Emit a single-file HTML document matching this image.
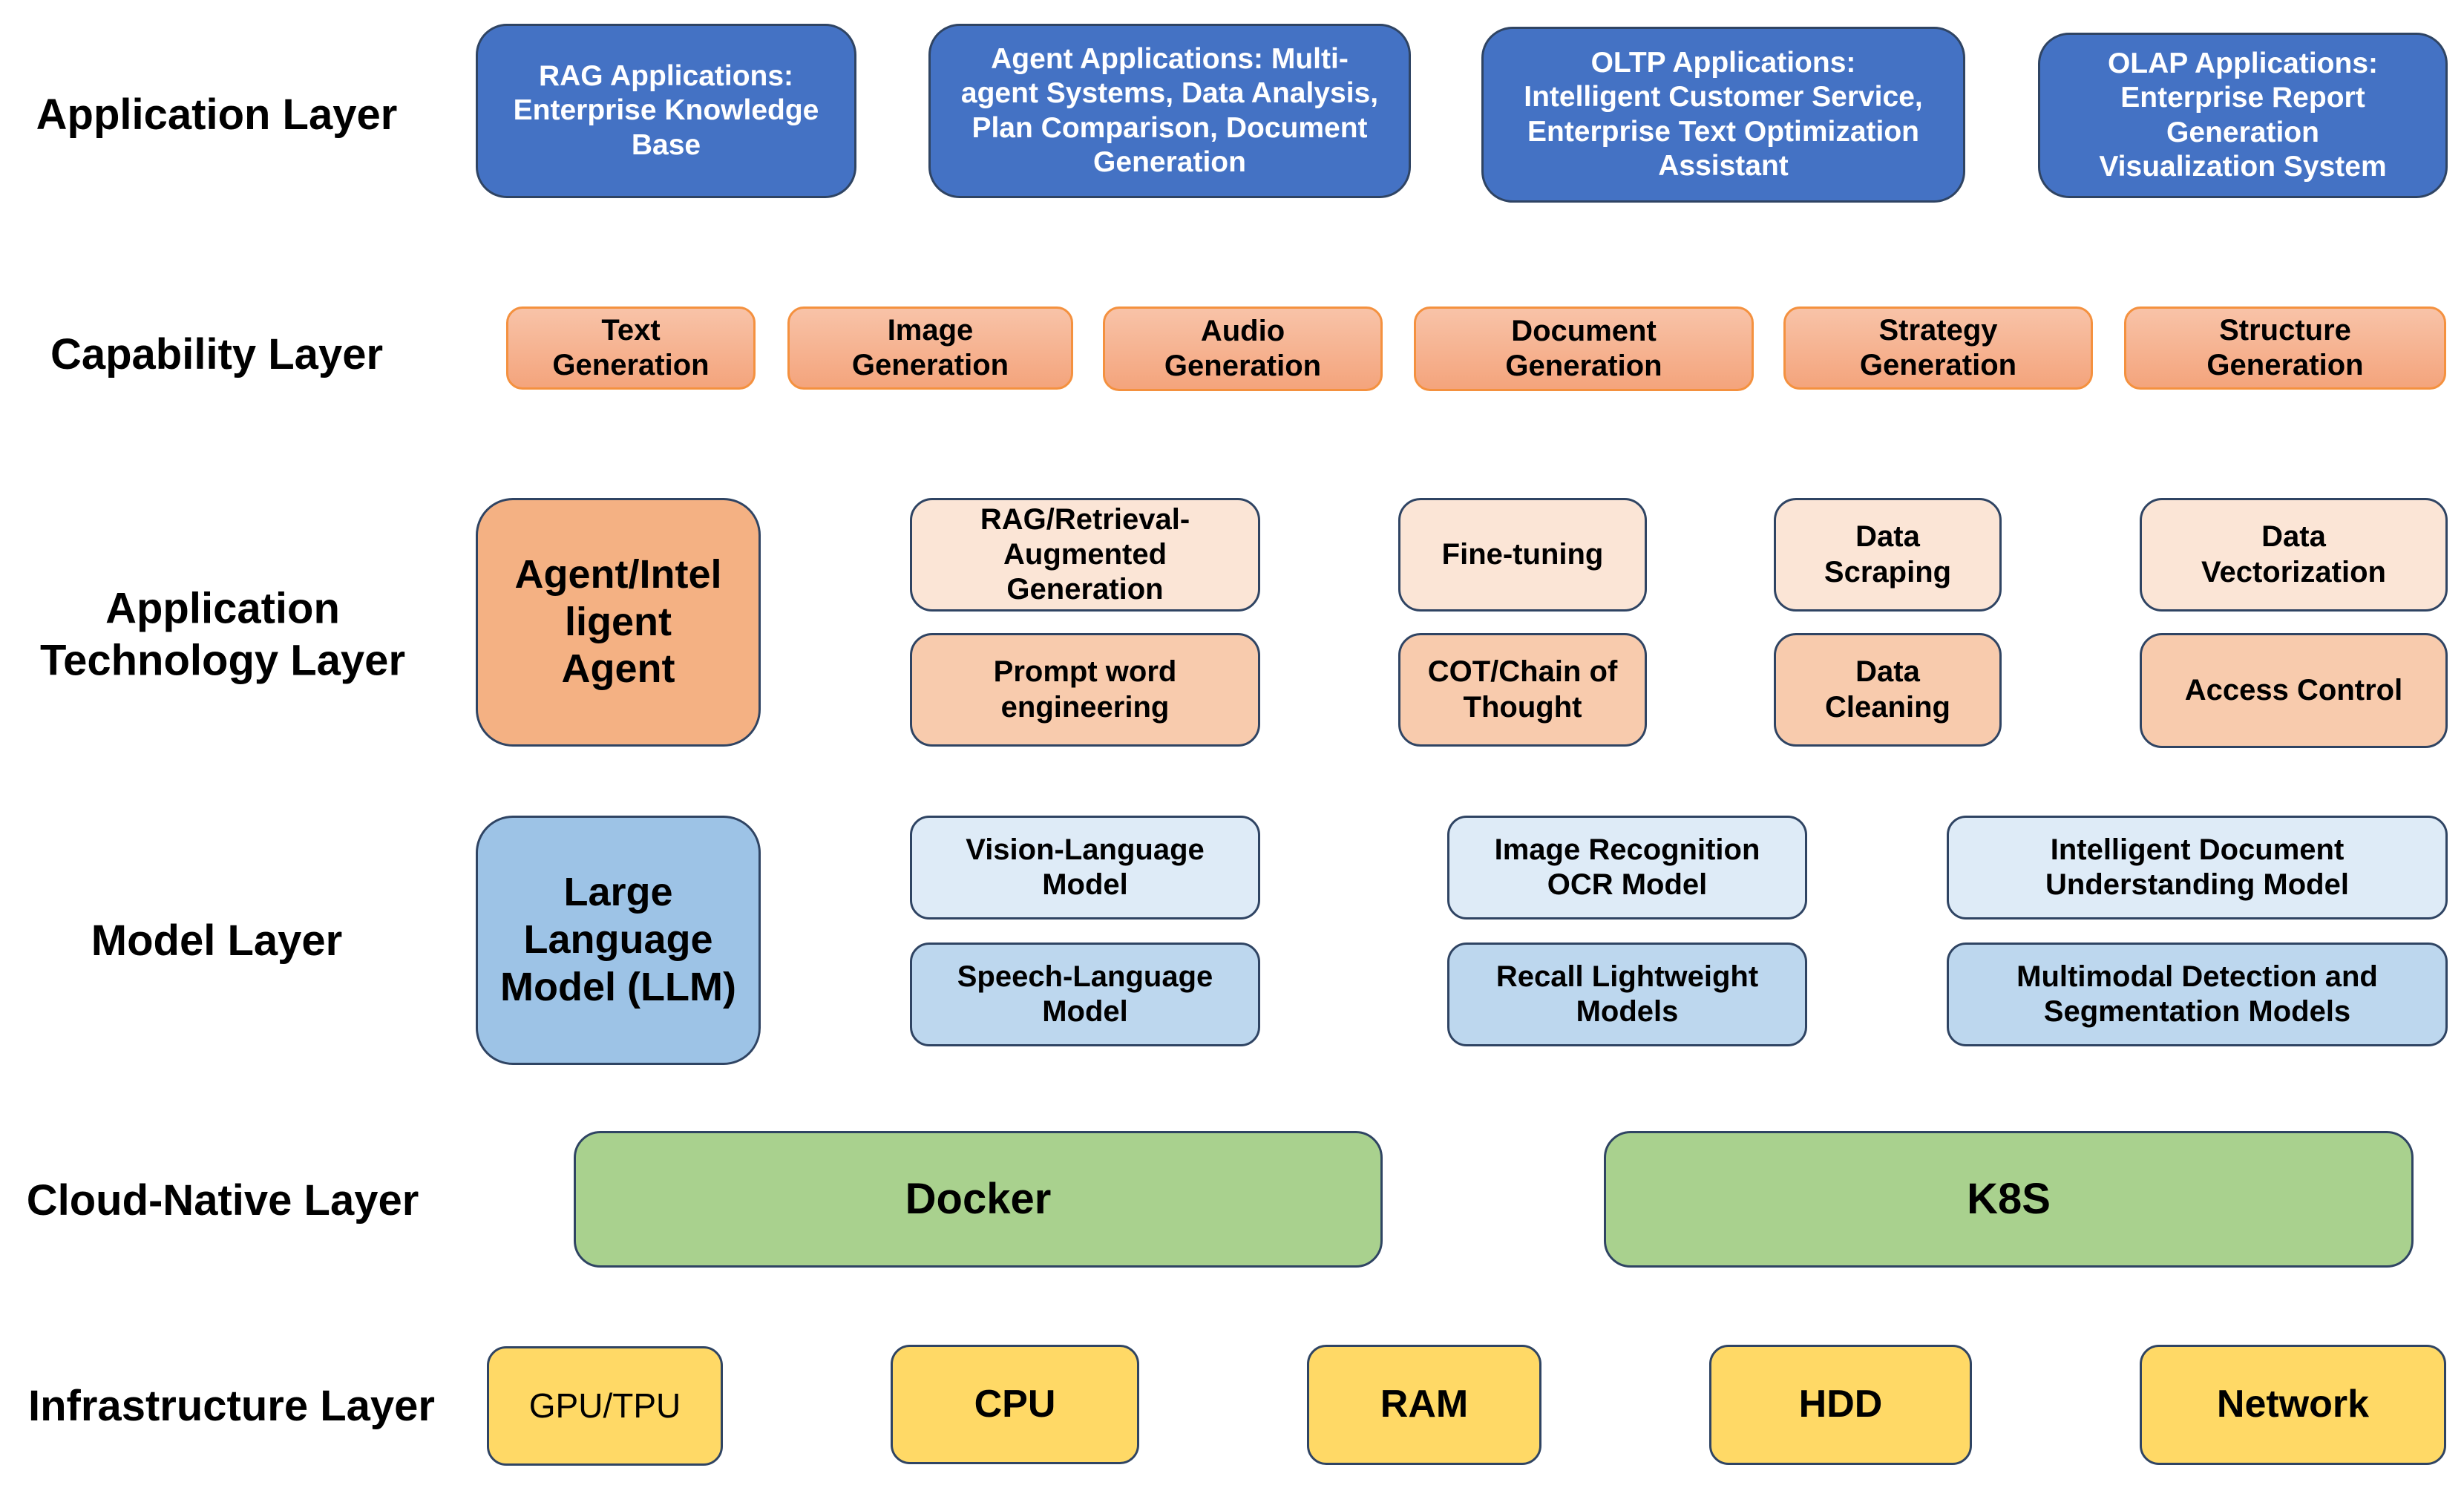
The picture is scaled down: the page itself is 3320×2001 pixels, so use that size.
<!DOCTYPE html>
<html><head><meta charset="utf-8"><style>
html,body{margin:0;padding:0;background:#fff;}
body{width:3320px;height:2001px;position:relative;overflow:hidden;font-family:"Liberation Sans",sans-serif;font-weight:bold;}
.b{position:absolute;box-sizing:border-box;display:flex;align-items:center;justify-content:center;text-align:center;border:3px solid #2F4463;color:#000;line-height:1.18;}
.lbl{position:absolute;text-align:center;font-size:58px;line-height:1.2;color:#000;transform:translate(-50%,-50%);white-space:nowrap;}
.app{background:#4472C4;color:#fff;border-radius:42px;font-size:39px;}
.cap{background:linear-gradient(#F8C3A8,#F4A47C);border:3px solid #F4913F;border-radius:22px;font-size:40px;}
.t1{background:#FBE5D6;border-radius:30px;font-size:40px;}
.t2{background:#F8CBAD;border-radius:30px;font-size:40px;}
.m1{background:#DEEBF7;border-radius:26px;font-size:40px;}
.m2{background:#BDD7EE;border-radius:26px;font-size:40px;}
.g{background:#A9D18E;border-radius:36px;font-size:58px;}
.y{background:#FFD966;border-radius:26px;font-size:52px;}
</style></head><body>
<div class="lbl" style="left:292px;top:155px">Application Layer</div>
<div class="lbl" style="left:292px;top:478px">Capability Layer</div>
<div class="lbl" style="left:300px;top:855px">Application<br>Technology Layer</div>
<div class="lbl" style="left:292px;top:1268px">Model Layer</div>
<div class="lbl" style="left:300px;top:1618px">Cloud-Native Layer</div>
<div class="lbl" style="left:312px;top:1895px">Infrastructure Layer</div>

<div class="b app" style="left:641px;top:32px;width:513px;height:235px">RAG Applications:<br>Enterprise Knowledge<br>Base</div>
<div class="b app" style="left:1251px;top:32px;width:650px;height:235px">Agent Applications: Multi-<br>agent Systems, Data Analysis,<br>Plan Comparison, Document<br>Generation</div>
<div class="b app" style="left:1996px;top:36px;width:652px;height:237px">OLTP Applications:<br>Intelligent Customer Service,<br>Enterprise Text Optimization<br>Assistant</div>
<div class="b app" style="left:2746px;top:44px;width:552px;height:223px">OLAP Applications:<br>Enterprise Report<br>Generation<br>Visualization System</div>

<div class="b cap" style="left:682px;top:413px;width:336px;height:112px">Text<br>Generation</div>
<div class="b cap" style="left:1061px;top:413px;width:385px;height:112px">Image<br>Generation</div>
<div class="b cap" style="left:1486px;top:413px;width:377px;height:114px">Audio<br>Generation</div>
<div class="b cap" style="left:1905px;top:413px;width:458px;height:114px">Document<br>Generation</div>
<div class="b cap" style="left:2403px;top:413px;width:417px;height:112px">Strategy<br>Generation</div>
<div class="b cap" style="left:2862px;top:413px;width:434px;height:112px">Structure<br>Generation</div>

<div class="b" style="left:641px;top:671px;width:384px;height:335px;background:#F4B183;border-radius:50px;font-size:54px">Agent/Intel<br>ligent<br>Agent</div>
<div class="b t1" style="left:1226px;top:671px;width:472px;height:153px">RAG/Retrieval-<br>Augmented<br>Generation</div>
<div class="b t2" style="left:1226px;top:853px;width:472px;height:153px">Prompt word<br>engineering</div>
<div class="b t1" style="left:1884px;top:671px;width:335px;height:153px">Fine-tuning</div>
<div class="b t2" style="left:1884px;top:853px;width:335px;height:153px">COT/Chain of<br>Thought</div>
<div class="b t1" style="left:2390px;top:671px;width:307px;height:153px">Data<br>Scraping</div>
<div class="b t2" style="left:2390px;top:853px;width:307px;height:153px">Data<br>Cleaning</div>
<div class="b t1" style="left:2883px;top:671px;width:415px;height:153px">Data<br>Vectorization</div>
<div class="b t2" style="left:2883px;top:853px;width:415px;height:155px">Access Control</div>

<div class="b" style="left:641px;top:1099px;width:384px;height:336px;background:#9DC3E6;border-radius:50px;font-size:54px">Large<br>Language<br>Model (LLM)</div>
<div class="b m1" style="left:1226px;top:1099px;width:472px;height:140px">Vision-Language<br>Model</div>
<div class="b m2" style="left:1226px;top:1270px;width:472px;height:140px">Speech-Language<br>Model</div>
<div class="b m1" style="left:1950px;top:1099px;width:485px;height:140px">Image Recognition<br>OCR Model</div>
<div class="b m2" style="left:1950px;top:1270px;width:485px;height:140px">Recall Lightweight<br>Models</div>
<div class="b m1" style="left:2623px;top:1099px;width:675px;height:140px">Intelligent Document<br>Understanding Model</div>
<div class="b m2" style="left:2623px;top:1270px;width:675px;height:140px">Multimodal Detection and<br>Segmentation Models</div>

<div class="b g" style="left:773px;top:1524px;width:1090px;height:184px">Docker</div>
<div class="b g" style="left:2161px;top:1524px;width:1091px;height:184px">K8S</div>

<div class="b y" style="left:656px;top:1814px;width:318px;height:161px;font-weight:normal;font-size:46px">GPU/TPU</div>
<div class="b y" style="left:1200px;top:1812px;width:335px;height:161px">CPU</div>
<div class="b y" style="left:1761px;top:1812px;width:316px;height:162px">RAM</div>
<div class="b y" style="left:2303px;top:1812px;width:354px;height:162px">HDD</div>
<div class="b y" style="left:2883px;top:1812px;width:413px;height:162px">Network</div>
</body></html>
